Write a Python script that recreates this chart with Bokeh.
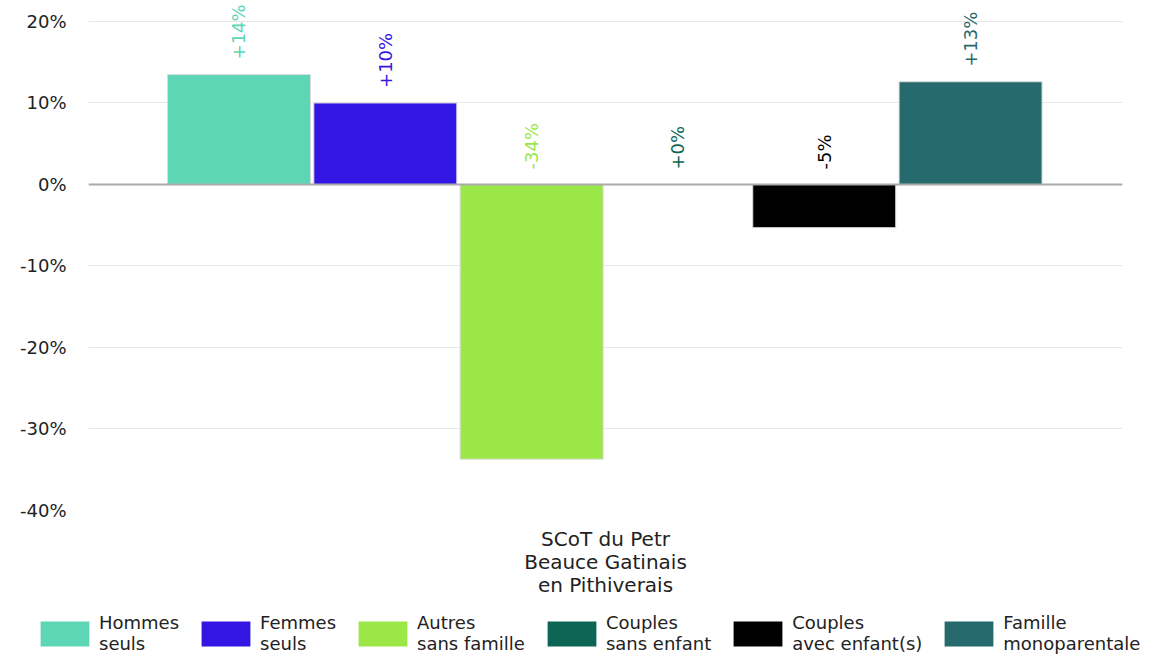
from bokeh.plotting import figure
from bokeh.layouts import column
from bokeh.models import (ColumnDataSource, Range1d, FixedTicker, Span, Legend, LegendItem)
from bokeh.core.properties import value
from bokeh.embed import file_html
from bokeh.resources import INLINE

# ---- data ----
group_label = "SCoT du Petr\nBeauce Gatinais\nen Pithiverais"
series = ["Hommes\nseuls", "Femmes\nseuls", "Autres\nsans famille",
          "Couples\nsans enfant", "Couples\navec enfant(s)", "Famille\nmonoparentale"]
values = [13.5, 10.0, -33.7, 0.0, -5.3, 12.6]
colors = ["#5dd6b5", "#3416e3", "#9be748", "#0d6655", "#000000", "#276a6e"]
y_ticks = [-40, -30, -20, -10, 0, 10, 20]

FONT = "DejaVu Sans"

p = figure(width=1154, height=600, output_backend="svg", toolbar_location=None,
           x_range=Range1d(0, 1), y_range=Range1d(-40, 22.57))
p.frame_align = False
p.min_border_left = 88
p.min_border_right = 32
p.min_border_top = 0
p.min_border_bottom = 89
p.outline_line_color = None
p.background_fill_color = "white"

slot = 0.1415
bw = 0.1383
xs = [0.4993 + (i - 2.5) * slot for i in range(len(values))]
labels = [f"{v:+.0f}%" for v in values]
src = ColumnDataSource(dict(x=xs, top=values, color=colors, label=labels,
                            ly=[max(v, 0) for v in values]))

for i in range(len(values)):
    p.vbar(x=[xs[i]], top=[values[i]], bottom=0, width=bw, fill_color=colors[i],
           line_color="#dcdcdc", line_width=1)

# zero line
p.add_layout(Span(location=0, dimension="width", line_color="#aaaaaa", line_width=2))

p.text(x="x", y="ly", text="label", source=src, angle=1.5708, text_align="left",
       text_baseline="middle", y_offset=-15, text_color="color",
       text_font=value(FONT), text_font_size="18px")

# axes
p.yaxis.ticker = FixedTicker(ticks=y_ticks)
p.yaxis.major_label_overrides = {t: f"{t}%" for t in y_ticks}
p.yaxis.axis_line_color = None
p.yaxis.major_tick_line_color = None
p.yaxis.minor_tick_line_color = None
p.yaxis.major_label_standoff = 16
p.yaxis.major_label_text_font = FONT
p.yaxis.major_label_text_font_size = "18px"
p.yaxis.major_label_text_color = "#222222"

p.xaxis.ticker = FixedTicker(ticks=[0.5])
p.xaxis.major_label_overrides = {0.5: group_label}
p.xaxis.axis_line_color = None
p.xaxis.major_tick_line_color = None
p.xaxis.minor_tick_line_color = None
p.xaxis.major_label_standoff = 10
p.xaxis.major_label_text_font = FONT
p.xaxis.major_label_text_font_size = "20px"
p.xaxis.major_label_text_line_height = 0.97
p.xaxis.major_label_text_color = "#222222"

p.xgrid.grid_line_color = None
p.ygrid.grid_line_color = "#e8e8e8"
p.ygrid.grid_line_width = 1

# ---- legend (separate strip below) ----
lg = figure(width=1154, height=54, output_backend="svg", toolbar_location=None,
            x_range=Range1d(0, 1), y_range=Range1d(0, 1))
lg.frame_align = False
lg.min_border_left = 0
lg.min_border_right = 0
lg.min_border_top = 0
lg.min_border_bottom = 0
lg.outline_line_color = None
lg.axis.visible = False
lg.grid.visible = False
swatches = []
for i in range(len(values)):
    # zero-size swatch renderers; they only provide the legend glyph styles
    r = lg.vbar(x=[0.5], top=[0], bottom=0, width=0, fill_color=colors[i],
                line_color=None)
    swatches.append(r)

items = [LegendItem(label=series[i], renderers=[swatches[i]]) for i in range(len(values))]
legend = Legend(items=items, orientation="horizontal", location=(34, 0),
                label_text_font=FONT, label_text_font_size="18px",
                label_text_color="#222222", glyph_width=61, glyph_height=31,
                spacing=16, border_line_color=None, background_fill_alpha=0,
                padding=0, margin=0, label_standoff=4)
lg.add_layout(legend, "center")

layout = column(p, lg, spacing=0)
open("out.html", "w").write(file_html(layout, INLINE))
